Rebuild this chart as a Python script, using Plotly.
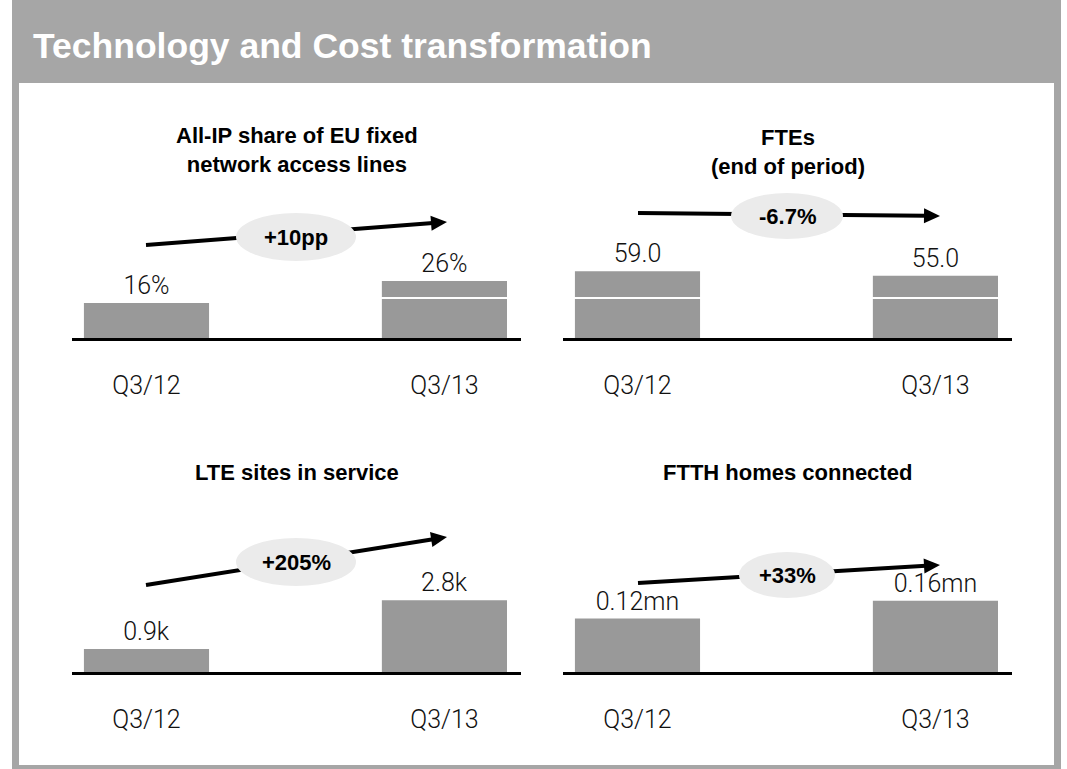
import math
import plotly.graph_objects as go

W, H = 1067, 769

# ---------------- data ----------------
categories = ["Q3/12", "Q3/13"]
allip_share = [16, 26]
allip_labels = ["16%", "26%"]
ftes = [59.0, 55.0]
fte_labels = ["59.0", "55.0"]
lte_sites = [0.9, 2.8]
lte_labels = ["0.9k", "2.8k"]
ftth_homes = [0.12, 0.16]
ftth_labels = ["0.12mn", "0.16mn"]
panel_titles = ["All-IP share of EU fixed<br>network access lines",
                "FTEs<br>(end of period)",
                "LTE sites in service",
                "FTTH homes connected"]
changes = ["+10pp", "-6.7%", "+205%", "+33%"]
header_title = "Technology and Cost transformation"


def X(p):
    return p / W


def Y(p):
    return 1 - p / H


BAR = "#999999"
LIGHT = "Roboto"
BOLD = "Liberation Sans"

# panel layout: (values, labels, x-left px, x-right px, axis y px, px per unit, title y px)
panels = [
    (allip_share, allip_labels, 72, 521, 338, 2.19, 150),
    (ftes, fte_labels, 563, 1012, 338, 1.13, 152),
    (lte_sites, lte_labels, 72, 521, 672, 25.6, 472),
    (ftth_homes, ftth_labels, 563, 1012, 672, 445.0, 472),
]

fig = go.Figure()
layout_axes = {}
annotations = []
shapes = []

# frame + header
shapes.append(dict(type="rect", xref="paper", yref="paper", x0=X(12), x1=X(1061), y0=Y(769), y1=Y(0),
                   fillcolor="#a6a6a6", line=dict(width=0), layer="below"))
shapes.append(dict(type="rect", xref="paper", yref="paper", x0=X(19), x1=X(1054), y0=Y(765), y1=Y(83),
                   fillcolor="white", line=dict(width=0), layer="below"))

annotations.append(dict(text=header_title, xref="paper", yref="paper", x=X(31), y=Y(46),
                        xanchor="left", yanchor="middle", showarrow=False,
                        font=dict(family=BOLD, size=35.5, color="white", weight="bold")))

for i, (vals, labs, xl, xr, yb, scale, ty) in enumerate(panels):
    n = "" if i == 0 else str(i + 1)
    fig.add_trace(go.Bar(x=categories, y=vals, text=labs, textposition="outside",
                         marker=dict(color=BAR, line=dict(width=0)), width=0.42,
                         textfont=dict(family=LIGHT, size=25, color="#111111", weight=300),
                         cliponaxis=False, xaxis="x" + n, yaxis="y" + n, showlegend=False,
                         hoverinfo="skip"))
    top = yb - 150
    layout_axes["xaxis" + n] = dict(domain=[X(xl), X(xr)], anchor="y" + n, range=[-0.25, 1.257],
                                    showline=True, linecolor="black", linewidth=3, showgrid=False,
                                    zeroline=False, ticks="outside", ticklen=23,
                                    tickcolor="rgba(0,0,0,0)",
                                    tickfont=dict(family=LIGHT, size=25, color="#111111", weight=300),
                                    fixedrange=True)
    layout_axes["yaxis" + n] = dict(domain=[Y(yb), Y(top)], anchor="x" + n,
                                    range=[0, 150 / scale], visible=False, fixedrange=True)
    annotations.append(dict(text="<b>" + panel_titles[i] + "</b>", xref="paper", yref="paper",
                            x=X((xl + xr) / 2), y=Y(ty), xanchor="center", yanchor="middle",
                            showarrow=False, font=dict(family=BOLD, size=22, color="black")))

# white break lines across the top bars
for n, yv in [("", 40 / 2.19), ("2", 40 / 1.13)]:
    shapes.append(dict(type="line", xref="x" + n + " domain", yref="y" + n, x0=0, x1=1, y0=yv, y1=yv,
                       line=dict(color="white", width=2), layer="above"))

# change arrows with ellipse badges: (start, end, centre, rx, ry)
arrows = [
    ((146, 245), (447, 222), (296, 237), 60, 24),
    ((638, 213), (940, 216), (787, 216), 56, 23),
    ((146, 585), (447, 537), (296, 562), 60, 24),
    ((638, 583), (940, 565), (787, 575), 48, 23),
]
for (s, e, c, rx, ry) in arrows:
    dx, dy = e[0] - s[0], e[1] - s[1]
    L = math.hypot(dx, dy)
    ux, uy = dx / L, dy / L
    hl, hw = 16, 7.5
    bx, by = e[0] - ux * hl, e[1] - uy * hl
    shapes.append(dict(type="line", xref="paper", yref="paper", x0=X(s[0]), y0=Y(s[1]),
                       x1=X(bx + ux * 2), y1=Y(by + uy * 2), line=dict(color="black", width=4),
                       layer="above"))
    px, py = -uy, ux
    path = "M {} {} L {} {} L {} {} Z".format(
        X(e[0]), Y(e[1]), X(bx + px * hw), Y(by + py * hw), X(bx - px * hw), Y(by - py * hw))
    shapes.append(dict(type="path", xref="paper", yref="paper", path=path, fillcolor="black",
                       line=dict(width=0), layer="above"))

for (s, e, c, rx, ry), txt in zip(arrows, changes):
    shapes.append(dict(type="circle", xref="paper", yref="paper", x0=X(c[0] - rx), x1=X(c[0] + rx),
                       y0=Y(c[1] + ry), y1=Y(c[1] - ry), fillcolor="#ebebeb",
                       line=dict(width=0), layer="above"))
    annotations.append(dict(text="<b>" + txt + "</b>", xref="paper", yref="paper", x=X(c[0]),
                            y=Y(c[1]), xanchor="center", yanchor="middle", showarrow=False,
                            font=dict(family=BOLD, size=22, color="black")))

fig.update_layout(width=W, height=H, margin=dict(l=0, r=0, t=0, b=0),
                  paper_bgcolor="white", plot_bgcolor="rgba(0,0,0,0)",
                  shapes=shapes, annotations=annotations, bargap=0.5, **layout_axes)

fig.write_html("out.html", config={"displayModeBar": False},
               post_script="document.body.style.margin='0';document.body.style.overflow='hidden';")
